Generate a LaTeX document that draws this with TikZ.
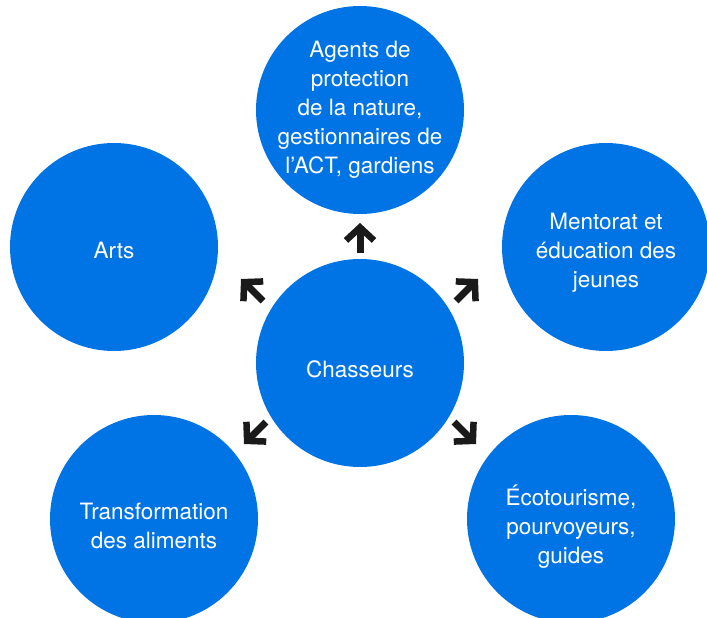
\documentclass[tikz,border=0pt]{standalone}
\usepackage{fontspec}
\setmainfont{TeX Gyre Heros}
\usetikzlibrary{arrows.meta}
\definecolor{bubbleBlue}{RGB}{0,115,229}
\definecolor{arrowBlack}{RGB}{26,26,26}

\begin{document}
\begin{tikzpicture}
  [x=1pt,y=-1pt,
   bubbleN/.style={circle,fill=bubbleBlue,minimum size=208pt,inner sep=0pt},
   bubbleT/.style={text=white,align=center,inner sep=0pt,yshift=-6pt,
     font=\fontsize{22.5}{29}\selectfont},
   arrowE/.style={draw=arrowBlack,line width=7pt,
     -{Straight Barb[length=13pt,width=28pt,line width=6.5pt]}}]

  \useasboundingbox (0,0) rectangle (707,618);

  \node[bubbleN,label={[bubbleT]center:Chasseurs}] (c) at (360,363) {};
  \node[bubbleN,label={[bubbleT,yshift=6pt]center:Agents de\\protection\\de la nature,\\gestionnaires de\\l’ACT, gardiens}] (t) at (360,110) {};
  \node[bubbleN,label={[bubbleT,yshift=3pt]center:Arts}] (l) at (114,247) {};
  \node[bubbleN,label={[bubbleT]center:Mentorat et\\éducation des\\jeunes}] (r) at (606,247) {};
  \node[bubbleN,label={[bubbleT,yshift=-1pt]center:Transformation\\des aliments}] (ll) at (154,519) {};
  \node[bubbleN,label={[bubbleT,yshift=-2pt]center:Écotourisme,\\pourvoyeurs,\\guides}] (rr) at (571,519) {};

  % arrow ends
  \coordinate (tT)  at (360,253); \coordinate (hT)  at (360,223);
  \coordinate (tL)  at (263,301); \coordinate (hL)  at (241,279);
  \coordinate (tR)  at (456,301); \coordinate (hR)  at (478,279);
  \coordinate (tLL) at (266,422); \coordinate (hLL) at (244,444);
  \coordinate (tRR) at (454,422); \coordinate (hRR) at (476,444);

  \draw [arrowE] (tT) -- (hT);
  \draw [arrowE] (tL) -- (hL);
  \draw [arrowE] (tR) -- (hR);
  \draw [arrowE] (tLL) -- (hLL);
  \draw [arrowE] (tRR) -- (hRR);
\end{tikzpicture}
\end{document}
